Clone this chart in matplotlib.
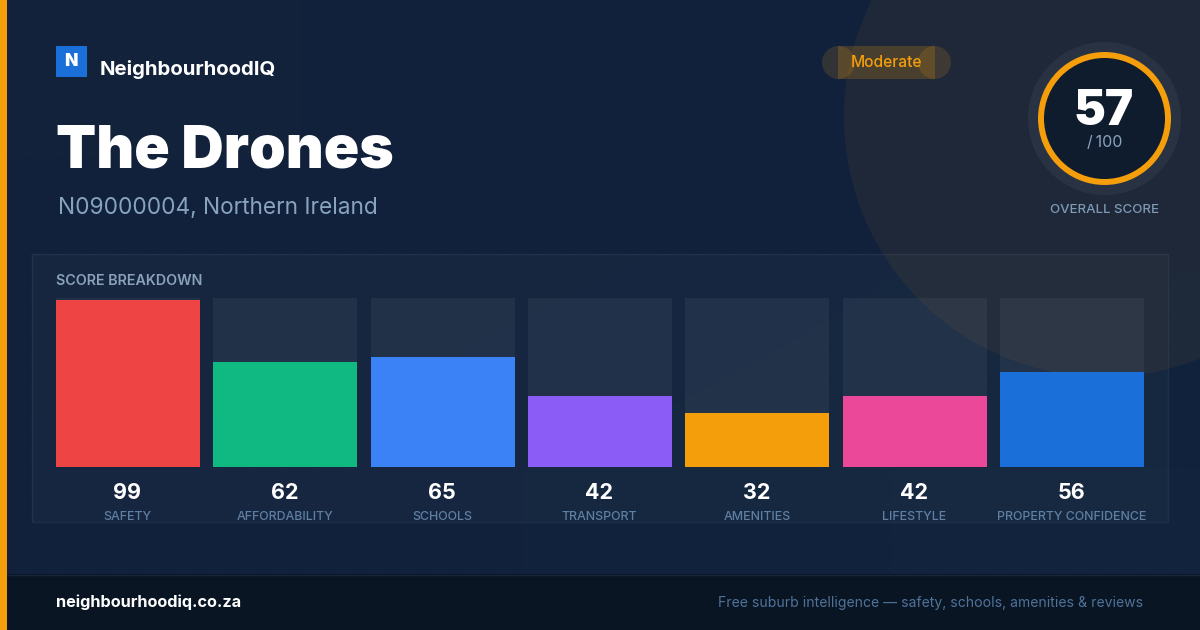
import numpy as np
from matplotlib import pyplot as plt
from matplotlib.patches import Circle, Rectangle

categories = ['SAFETY', 'AFFORDABILITY', 'SCHOOLS', 'TRANSPORT', 'AMENITIES', 'LIFESTYLE', 'PROPERTY CONFIDENCE']
scores = [99, 62, 65, 42, 32, 42, 56]
bar_colors = ['#ef4444', '#10b981', '#3b82f6', '#8b5cf6', '#f59e0b', '#ec4899', '#1a6fd8']
overall = 57
rating = 'Moderate'

ORANGE = '#f59e0b'
plt.rcParams['font.family'] = ['Inter', 'DejaVu Sans']

fig = plt.figure(figsize=(12, 6.3), dpi=100)

# whole canvas in pixels, y going down like the reference
bg = fig.add_axes([0, 0, 1, 1])
bg.axis('off')

gradient = [[0.0, 0.6], [0.6, 1.0]]
bg_cmap = plt.matplotlib.colors.LinearSegmentedColormap.from_list('bg', ['#12223b', '#11213c', '#12233d'])
bg.imshow(gradient, extent=(0, 1200, 630, 0), cmap=bg_cmap, aspect='auto', interpolation='bilinear', zorder=0)
bg.set_xlim(0, 1200)
bg.set_ylim(630, 0)

# faint dot pattern
dot_x, dot_y = np.meshgrid(np.arange(24, 1200, 32), np.arange(24, 574, 32))
bg.scatter(dot_x.ravel(), dot_y.ravel(), s=1.6, color='white', alpha=0.035, linewidths=0, zorder=1)

bg.add_patch(Rectangle((32, 254), 1136, 268, facecolor='white', alpha=0.025, edgecolor='none', zorder=2))
bg.add_patch(Rectangle((32, 254), 1136, 268, facecolor='none', edgecolor='white', alpha=0.06, linewidth=1, zorder=2))
bg.add_patch(Circle((1104, 117), 260, facecolor=ORANGE, edgecolor='none', alpha=0.06, zorder=6))

# footer and left strip
bg.add_patch(Rectangle((0, 574), 1200, 56, facecolor='#0a1524', edgecolor='none', zorder=7))
bg.plot([0, 1200], [574.5, 574.5], color='#17263a', linewidth=1, zorder=7)
bg.add_patch(Rectangle((0, 0), 7, 630, facecolor=ORANGE, edgecolor='none', zorder=8))

# header
bg.add_patch(Rectangle((56, 46), 31, 31, facecolor='#1a6fd8', edgecolor='none', zorder=8))
bg.text(71, 66.5, 'N', color='white', fontsize=12.5, fontweight='black', ha='center', va='baseline', zorder=9)
bg.text(100, 75, 'NeighbourhoodIQ', color='white', fontsize=14.65, fontweight='bold', va='baseline', zorder=9)
bg.text(56, 168, 'The Drones', color='white', fontsize=42.2, fontweight='black', va='baseline', zorder=9)
bg.text(58, 214, 'N09000004, Northern Ireland', color='#88a3bf', fontsize=16.35, va='baseline', zorder=9)

# rating pill, the end caps overlap the middle in the reference
bg.add_patch(Rectangle((838, 46), 97, 33, facecolor=ORANGE, edgecolor='none', alpha=0.2, zorder=8))
bg.add_patch(Circle((838.5, 62.5), 16.5, facecolor=ORANGE, edgecolor='none', alpha=0.15, zorder=8))
bg.add_patch(Circle((934.5, 62.5), 16.5, facecolor=ORANGE, edgecolor='none', alpha=0.15, zorder=8))
bg.text(886.5, 67, rating, color=ORANGE, fontsize=11.2, fontweight='medium', ha='center', va='baseline', zorder=9)

# score ring
bg.add_patch(Circle((1104.5, 118.5), 76.5, facecolor='white', edgecolor='none', alpha=0.05, zorder=8))
bg.add_patch(Circle((1104.5, 118.5), 63.5, facecolor='#0f1c2e', edgecolor=ORANGE, linewidth=4.3, zorder=8))
bg.text(1104, 125, str(overall), color='white', fontsize=34.4, fontweight='black', ha='center', va='baseline', zorder=9)
bg.text(1104.5, 147, '/\u2009100', color='#8aa2bc', fontsize=11.5, ha='center', va='baseline', zorder=9)
bg.text(1104.5, 213, 'OVERALL SCORE', color='#7f9ab5', fontsize=9.55, fontweight='medium', ha='center', va='baseline', zorder=9)

bg.text(56, 285, 'SCORE BREAKDOWN', color='#8aa2bc', fontsize=10.25, fontweight='semibold', va='baseline', zorder=9)

# footer text
bg.text(56, 607, 'neighbourhoodiq.co.za', color='white', fontsize=11.7, fontweight='bold', va='baseline', zorder=9)
bg.text(1143, 607, 'Free suburb intelligence \u2014 safety, schools, amenities & reviews', color='#4f7299', fontsize=10.08,
        ha='right', va='baseline', zorder=9)

# bars, 100 points = 169 px, 144 px wide every 157.33 px
ax = fig.add_axes([56 / 1200, (630 - 467) / 630, 1088 / 1200, 169 / 630])
ax.patch.set_alpha(0)
xs = np.arange(len(scores))
width = 144 / 157.33
ax.bar(xs, [100] * len(scores), width=width, color='white', alpha=0.05, linewidth=0)
ax.bar(xs, scores, width=width, color=bar_colors, linewidth=0)
ax.set_xlim(-width / 2, len(scores) - 1 + width / 2)
ax.set_ylim(0, 100)
ax.axis('off')

for x, score, name in zip(xs, scores, categories):
    px = 128 + x * 157.33
    bg.text(px - 0.5, 499, str(score), color='white', fontsize=15.5, fontweight='bold', ha='center', va='baseline', zorder=9)
    bg.text(px - 0.5, 520, name, color='#5f7fa3', fontsize=8.95, fontweight='medium', ha='center', va='baseline', zorder=9)

fig.savefig('out.png', dpi=100)
